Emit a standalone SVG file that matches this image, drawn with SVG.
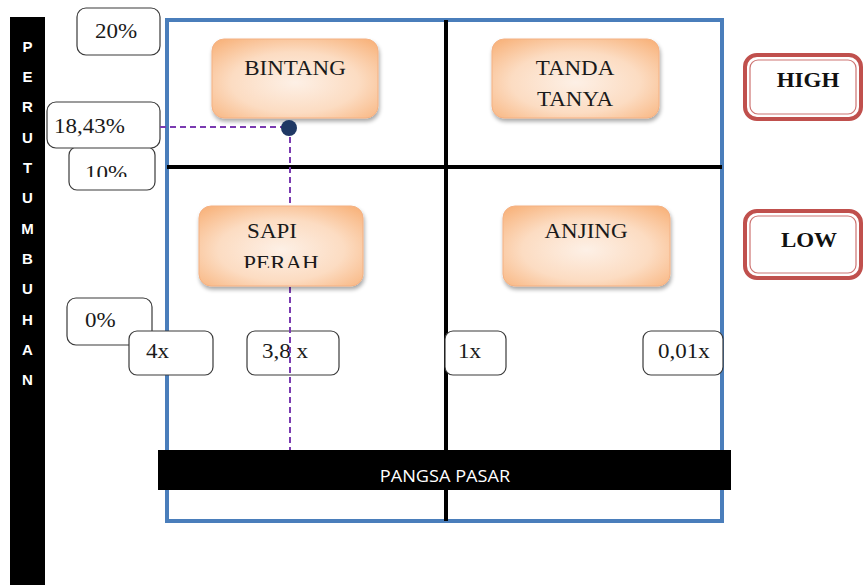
<svg xmlns="http://www.w3.org/2000/svg" width="866" height="585" viewBox="0 0 866 585">
<style>
.t{font-family:"Liberation Serif","Times New Roman",serif;font-size:20px;fill:#1a1a1a}
.tb{font-family:"Liberation Serif","Times New Roman",serif;font-size:20px;font-weight:bold;fill:#111}
.v{fill:#fff;stroke:#3a3a3a;stroke-width:1.2}
.o{fill:url(#og);stroke:#f4b183;stroke-width:1;filter:url(#sh)}
.lt{font-family:"Liberation Sans",Arial,sans-serif;font-size:15px;font-weight:bold;fill:#fff;text-anchor:middle}
.dash{fill:none;stroke:#7a3bb0;stroke-width:2;stroke-dasharray:6 4}
</style>
<defs>
<radialGradient id="og" cx="0.5" cy="0.55" r="0.7">
<stop offset="0" stop-color="#fdf0e6"/>
<stop offset="0.55" stop-color="#fcdcc2"/>
<stop offset="1" stop-color="#f8b37c"/>
</radialGradient>
<filter id="sh" x="-10%" y="-10%" width="130%" height="140%">
<feGaussianBlur in="SourceAlpha" stdDeviation="2"/>
<feOffset dx="1" dy="3" result="b"/>
<feComponentTransfer><feFuncA type="linear" slope="0.35"/></feComponentTransfer>
<feMerge><feMergeNode/><feMergeNode in="SourceGraphic"/></feMerge>
</filter>
<clipPath id="c10"><rect x="60" y="140" width="100" height="37"/></clipPath>
<clipPath id="cPerah"><rect x="190" y="200" width="180" height="68"/></clipPath>
</defs>
<rect width="866" height="585" fill="#fff"/>

<g id="axis-y">
<rect x="10" y="17" width="35" height="568" fill="#000"/>
<text class="lt" x="27.5" y="52">P</text>
<text class="lt" x="27.5" y="82">E</text>
<text class="lt" x="27.5" y="112">R</text>
<text class="lt" x="27.5" y="143">U</text>
<text class="lt" x="27.5" y="173">T</text>
<text class="lt" x="27.5" y="203">U</text>
<text class="lt" x="27.5" y="234">M</text>
<text class="lt" x="27.5" y="264">B</text>
<text class="lt" x="27.5" y="294">U</text>
<text class="lt" x="27.5" y="325">H</text>
<text class="lt" x="27.5" y="355">A</text>
<text class="lt" x="27.5" y="385">N</text>
</g>

<g id="matrix">
<rect x="167" y="20" width="555" height="501" fill="none" stroke="#4a7ebb" stroke-width="4"/>
<line x1="446" y1="20" x2="446" y2="521" stroke="#000" stroke-width="4"/>
<line x1="167" y1="167" x2="722" y2="167" stroke="#000" stroke-width="4"/>
</g>

<g id="box-20">
<rect class="v" x="77" y="8" width="83" height="47" rx="9"/>
<text class="t" transform="translate(95,38) scale(1.15,1)">20%</text>
</g>
<g id="box-10">
<rect class="v" x="69" y="147" width="86" height="43" rx="8"/>
<g clip-path="url(#c10)"><text class="t" transform="translate(85,180) scale(1.15,1)">10%</text></g>
</g>
<g id="box-1843">
<rect class="v" x="47" y="102" width="113" height="46" rx="9"/>
<text class="t" transform="translate(54,133) scale(1.15,1)">18,43%</text>
</g>
<g id="box-0">
<rect class="v" x="67" y="298" width="85" height="47" rx="9"/>
<text class="t" transform="translate(85,327) scale(1.15,1)">0%</text>
</g>
<g id="box-4x">
<rect class="v" x="129" y="331" width="84" height="44" rx="8"/>
<text class="t" transform="translate(146,358) scale(1.15,1)">4x</text>
</g>
<g id="box-38x">
<rect class="v" x="247" y="331" width="92" height="44" rx="8"/>
<text class="t" transform="translate(262,358) scale(1.15,1)">3,8 x</text>
</g>
<g id="box-1x">
<rect class="v" x="445" y="331" width="61" height="44" rx="8"/>
<text class="t" transform="translate(458,358) scale(1.15,1)">1x</text>
</g>
<g id="box-001x">
<rect class="v" x="643" y="331" width="80" height="44" rx="8"/>
<text class="t" transform="translate(658,358) scale(1.15,1)">0,01x</text>
</g>

<g id="connectors">
<polyline class="dash" points="160,127 290,127 290,450"/>
</g>

<g id="bintang">
<rect class="o" x="212" y="39" width="166" height="79" rx="12"/>
<text class="t" text-anchor="middle" transform="translate(295,75) scale(1.15,1)">BINTANG</text>
</g>
<g id="tanda-tanya">
<rect class="o" x="492" y="39" width="167" height="79" rx="12"/>
<text class="t" text-anchor="middle" transform="translate(575,75) scale(1.15,1)">TANDA</text>
<text class="t" text-anchor="middle" transform="translate(575,106) scale(1.15,1)">TANYA</text>
</g>
<g id="sapi-perah">
<rect class="o" x="199" y="206" width="164" height="80" rx="12"/>
<text class="t" text-anchor="middle" transform="translate(272,238) scale(1.15,1)">SAPI</text>
<g clip-path="url(#cPerah)"><text class="t" text-anchor="middle" transform="translate(281,270) scale(1.15,1)">PERAH</text></g>
</g>
<g id="anjing">
<rect class="o" x="503" y="206" width="167" height="80" rx="12"/>
<text class="t" text-anchor="middle" transform="translate(586,238) scale(1.15,1)">ANJING</text>
</g>

<g id="point">
<circle cx="289" cy="128" r="8" fill="#1f3864"/>
</g>

<g id="high">
<rect x="745" y="55" width="116" height="64" rx="12" fill="#fff" stroke="#c0504d" stroke-width="4"/>
<rect x="750" y="60" width="106" height="54" rx="8" fill="none" stroke="#c0504d" stroke-width="1.2" opacity="0.8"/>
<text class="tb" text-anchor="middle" transform="translate(808,87) scale(1.15,1)">HIGH</text>
</g>
<g id="low">
<rect x="745" y="211" width="116" height="67" rx="12" fill="#fff" stroke="#c0504d" stroke-width="4"/>
<rect x="750" y="216" width="106" height="57" rx="8" fill="none" stroke="#c0504d" stroke-width="1.2" opacity="0.8"/>
<text class="tb" text-anchor="middle" transform="translate(809,247) scale(1.15,1)">LOW</text>
</g>

<g id="axis-x">
<rect x="158" y="450" width="573" height="40" fill="#000"/>
<text transform="translate(445,482) scale(1.1,1)" text-anchor="middle" font-family="'Open Sans','Noto Sans',sans-serif" font-size="16.5" fill="#fff">PANGSA PASAR</text>
</g>
</svg>
